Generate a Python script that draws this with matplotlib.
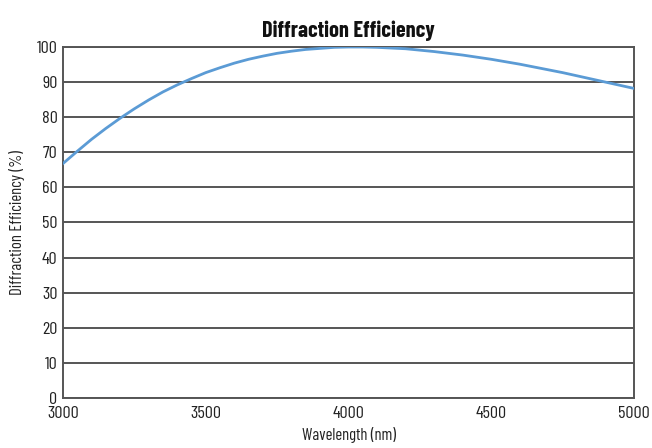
import matplotlib
matplotlib.use("Agg")
import matplotlib.pyplot as plt

wavelength = [3000, 3050, 3100, 3150, 3200, 3250, 3300, 3350, 3400, 3450, 3500, 3550,
              3600, 3650, 3700, 3750, 3800, 3850, 3900, 3950, 4000, 4050, 4100, 4150,
              4200, 4250, 4300, 4350, 4400, 4450, 4500, 4550, 4600, 4650, 4700, 4750,
              4800, 4850, 4900, 4950, 5000]
efficiency = [66.8, 70.3, 73.7, 76.8, 79.7, 82.4, 84.9, 87.2, 89.2, 91.0, 92.7, 94.1,
              95.4, 96.5, 97.4, 98.2, 98.8, 99.3, 99.6, 99.9, 100.0, 100.0, 99.9, 99.7,
              99.5, 99.1, 98.7, 98.2, 97.7, 97.1, 96.5, 95.8, 95.1, 94.3, 93.5, 92.7,
              91.8, 90.9, 90.0, 89.1, 88.2]
xticks = [3000, 3500, 4000, 4500, 5000]
yticks = list(range(0, 101, 10))

plt.rcParams['font.family'] = ['Barlow Condensed', 'Roboto Condensed', 'Oswald', 'DejaVu Sans']

fig = plt.figure(figsize=(6.52, 4.48), dpi=100)
ax = fig.add_axes([63/652, 1 - 398/448, (634-63)/652, (398-47)/448])

grid_color = '#555555'
for y in yticks:
    ax.axhline(y, color=grid_color, lw=1.4, zorder=1)

ax.plot(wavelength, efficiency, color='#5b9bd5', lw=2.0, zorder=3)

ax.set_xlim(3000, 5000)
ax.set_ylim(0, 100)
ax.set_xticks(xticks)
ax.set_yticks(yticks)
ax.tick_params(length=0, labelsize=13, colors='#222222', pad=4)
ax.tick_params(axis='x', pad=6)
for s in ax.spines.values():
    s.set_color(grid_color)
    s.set_linewidth(1.4)

ax.set_title('Diffraction Efficiency', fontsize=16, fontweight='bold', color='#111111', pad=7)
ax.set_xlabel('Wavelength (nm)', fontsize=12, color='#222222', labelpad=4)
ax.set_ylabel('Diffraction Efficiency (%)', fontsize=12, color='#222222', labelpad=8)

fig.savefig('out.png', dpi=100)
